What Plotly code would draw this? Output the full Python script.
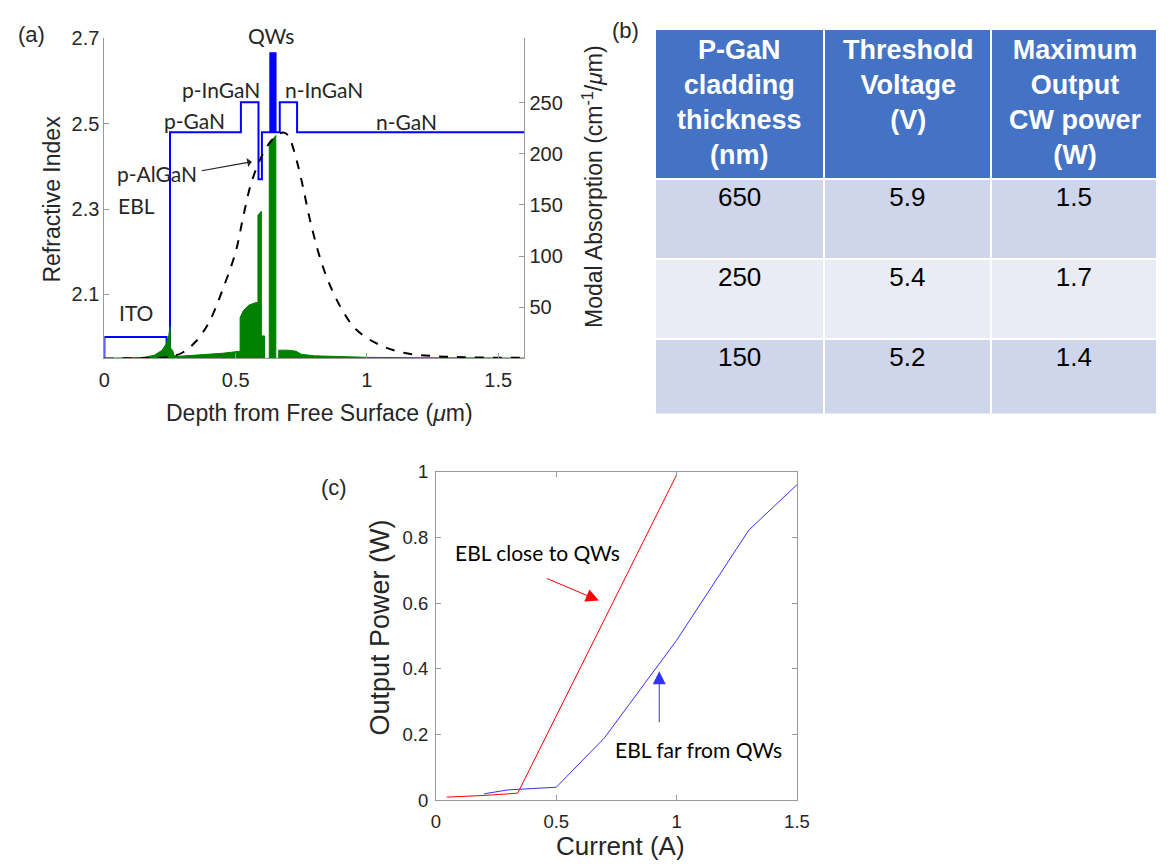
import plotly.graph_objects as go

W, H = 1171, 867

# ---------------- Panel (a) data ----------------
# refractive index profile (left axis)
idx_x = [0, 0, 0.237, 0.237, 0.25, 0.25, 0.52, 0.52, 0.587, 0.587, 0.60, 0.60,
         0.632, 0.632, 0.636, 0.636, 0.640, 0.640, 0.644, 0.644, 0.648, 0.648, 0.652, 0.652,
         0.668, 0.668, 0.734, 0.734, 1.6]
idx_n = [1.90, 2.00, 2.00, 1.90, 1.90, 2.48, 2.48, 2.55, 2.55, 2.37, 2.37, 2.48,
         2.48, 2.665, 2.665, 2.48, 2.48, 2.665, 2.665, 2.48, 2.48, 2.665, 2.665, 2.48,
         2.48, 2.55, 2.55, 2.48, 2.48]

# modal absorption (right axis, cm^-1/um)
abs_x = [0, 0.10, 0.15, 0.19, 0.22, 0.235, 0.245, 0.25, 0.252, 0.26,
         0.265, 0.28, 0.35, 0.45, 0.517, 0.517, 0.53, 0.55, 0.57, 0.585,
         0.585, 0.598, 0.598, 0.610, 0.610, 0.628, 0.628, 0.653, 0.653, 0.664,
         0.664, 0.70, 0.73, 0.75, 0.80, 0.90, 1.0, 1.2, 1.6]
abs_v = [0, 0.3, 1, 3, 8, 14, 22, 31, 10, 8,
         3, 2, 3, 5, 7, 40, 47, 52, 54, 55,
         140, 144, 22, 22, 0, 0, 210, 218, 0, 0,
         8, 8, 7, 4, 2.5, 1.5, 1, 0.6, 0.3]

# optical mode intensity (dashed, plotted on the absorption scale)
mode_x = [0, 0.15, 0.25, 0.30, 0.35, 0.40, 0.45, 0.50, 0.53, 0.56, 0.60, 0.64,
          0.68, 0.70, 0.72, 0.75, 0.79, 0.84, 0.90, 0.96, 1.05, 1.15, 1.27, 1.40, 1.6]
mode_v = [0, 0.3, 1.5, 6, 17, 36, 67, 104, 140, 172, 198, 214,
          221, 218, 205, 175, 128, 84, 50, 28, 13, 5, 2, 1, 0.5]

# ---------------- Panel (b) data ----------------
tbl_header = [["P-GaN", "cladding", "thickness", "(nm)"],
              ["Threshold", "Voltage", "(V)"],
              ["Maximum", "Output", "CW power", "(W)"]]
tbl_thickness = ["650", "250", "150"]
tbl_voltage = ["5.9", "5.4", "5.2"]
tbl_power = ["1.5", "1.7", "1.4"]

# ---------------- Panel (c) data ----------------
close_I = [0.045, 0.20, 0.34, 1.0]
close_P = [0.010, 0.015, 0.022, 0.99]
far_I = [0.20, 0.30, 0.50, 0.70, 1.00, 1.30, 1.50]
far_P = [0.020, 0.032, 0.040, 0.19, 0.487, 0.822, 0.96]

AX = "#9a9a9a"
TXT = "#262626"
SANS = "Liberation Sans, Arial, sans-serif"
LBL = "Lato, Open Sans, sans-serif"

TBL_LEFT, TBL_TOP, TBL_BOTTOM = 660, 18, 413
COLW = [172, 170, 170]

def pxx(x):
    return x / W

def pxy(y):
    return 1 - y / H

fig = go.Figure()

# Panel (a): index on the main axis, absorption + mode on the overlay (drawn on top)
fig.add_trace(go.Scatter(x=idx_x, y=idx_n, mode="lines",
                         line=dict(color="#0000ff", width=2),
                         xaxis="x", yaxis="y", showlegend=False))
fig.add_trace(go.Scatter(x=abs_x, y=abs_v, mode="lines", fill="tozeroy",
                         line=dict(color="#008000", width=1), fillcolor="#008000",
                         xaxis="x", yaxis="y2", showlegend=False))
fig.add_trace(go.Scatter(x=mode_x, y=mode_v, mode="lines",
                         line=dict(color="black", width=2, dash="dash", shape="spline"),
                         xaxis="x", yaxis="y2", showlegend=False))

# Panel (b): table cells; header captions drawn as centred multi-line text on top
fig.add_trace(go.Table(
    domain=dict(x=[pxx(TBL_LEFT), 1.0], y=[pxy(TBL_BOTTOM), pxy(TBL_TOP)]),
    columnwidth=COLW,
    header=dict(values=["", "", ""],
                fill_color="#4472C4", line=dict(color="white", width=2),
                font=dict(color="white", size=26, family=SANS), align="center", height=150),
    cells=dict(values=[tbl_thickness, tbl_voltage, tbl_power],
               fill_color=[["#CFD5EA", "#E9EBF5", "#CFD5EA"]] * 3,
               line=dict(color="white", width=2),
               font=dict(color="black", size=26, family=SANS), align="center", height=80),
))

# Panel (c)
fig.add_trace(go.Scatter(x=close_I, y=close_P, mode="lines",
                         line=dict(color="#ff0000", width=1),
                         xaxis="x3", yaxis="y3", showlegend=False))
fig.add_trace(go.Scatter(x=far_I, y=far_P, mode="lines",
                         line=dict(color="#3333ff", width=1),
                         xaxis="x3", yaxis="y3", showlegend=False))

tickfont_a = dict(family=SANS, size=20, color=TXT)
tickfont_c = dict(family=SANS, size=18.5, color=TXT)

fig.update_layout(
    width=W, height=H, margin=dict(l=0, r=0, t=0, b=0),
    paper_bgcolor="white", plot_bgcolor="white",
    xaxis=dict(domain=[pxx(100), pxx(527)], range=[0, 1.6], anchor="y",
               tickvals=[0, 0.5, 1, 1.5], ticktext=["0", "0.5", "1", "1.5"],
               ticks="inside", ticklen=5, tickcolor=AX, showline=True, linecolor=AX,
               showgrid=False, zeroline=False, tickfont=tickfont_a, ticklabelstandoff=4),
    yaxis=dict(domain=[pxy(356), pxy(28)], range=[1.95, 2.7], anchor="x", side="left",
               tickvals=[2.1, 2.3, 2.5, 2.7], ticktext=["2.1", "2.3", "2.5", "2.7"],
               ticks="inside", ticklen=5, tickcolor=AX,
               showline=True, linecolor=AX, showgrid=False, zeroline=False, tickfont=tickfont_a),
    yaxis2=dict(range=[0, 313], overlaying="y", side="right", anchor="x",
                tickvals=[50, 100, 150, 200, 250], ticks="inside", ticklen=5, tickcolor=AX,
                showline=True, linecolor=AX, showgrid=False, zeroline=False, tickfont=tickfont_a),
    xaxis3=dict(domain=[pxx(437), pxx(804)], range=[0, 1.5], anchor="y3",
                tickvals=[0, 0.5, 1, 1.5], ticktext=["0", "0.5", "1", "1.5"],
                ticks="inside", ticklen=5, tickcolor=AX, mirror="allticks",
                showline=True, linecolor=AX, showgrid=False, zeroline=False, tickfont=tickfont_c,
                ticklabelstandoff=4),
    yaxis3=dict(domain=[pxy(809), pxy(472)], range=[0, 1], anchor="x3",
                tickvals=[0, 0.2, 0.4, 0.6, 0.8, 1], ticktext=["0", "0.2", "0.4", "0.6", "0.8", "1"],
                ticks="inside", ticklen=5, tickcolor=AX, mirror="allticks",
                showline=True, linecolor=AX, showgrid=False, zeroline=False, tickfont=tickfont_c,
                ticklabelstandoff=3),
)

ann = []

def paper_text(text, x, y, size, family=SANS, xanchor="center", angle=0, color=TXT,
               yanchor="middle", weight="normal"):
    ann.append(dict(text=text, x=pxx(x), y=pxy(y), xref="paper", yref="paper",
                    showarrow=False, xanchor=xanchor, yanchor=yanchor, textangle=angle,
                    align="center",
                    font=dict(family=family, size=size, color=color, weight=weight)))

# table header captions (centred per line)
left = TBL_LEFT
for col, w in zip(tbl_header, COLW):
    paper_text("<br>".join(col), left + w / 2, TBL_TOP + 5, 27, color="white",
               yanchor="top", weight="bold")
    left += w

# panel labels
paper_text("(a)", 26, 24, 22)
paper_text("(b)", 630, 20, 22)
paper_text("(c)", 333, 488, 22)

# panel (a) axis titles
paper_text("Refractive Index", 47, 193, 23, angle=-90)
paper_text("Modal Absorption (cm<sup>-1</sup>/<i>μ</i>m)", 596, 180, 23, angle=-90)
paper_text("Depth from Free Surface (<i>μ</i>m)", 319, 412, 23)

# panel (a) layer labels
paper_text("QWs", 269, 25, 21, family=LBL)
paper_text("p-InGaN", 219, 80, 21, family=LBL)
paper_text("n-InGaN", 323, 80, 21, family=LBL)
paper_text("p-GaN", 192, 112, 21, family=LBL)
paper_text("n-GaN", 407, 113, 21, family=LBL)
paper_text("p-AlGaN", 153, 167, 21, family=LBL)
paper_text("EBL", 112, 199, 21, family=LBL, xanchor="left")
paper_text("ITO", 113, 309, 21, family=LBL, xanchor="left")

# arrow p-AlGaN
ann.append(dict(x=0.562, y=2.411, xref="x", yref="y", ax=0.365, ay=2.389, axref="x", ayref="y",
                showarrow=True, arrowhead=1, arrowsize=1.3, arrowwidth=1.2, arrowcolor="#222222",
                text=""))

# panel (c) axis titles
paper_text("Output Power (W)", 380, 632, 27, angle=-90)
paper_text("Current (A)", 625, 856, 26)

# panel (c) labels and arrows
ann.append(dict(text="EBL close to QWs", x=0.072, y=0.753, xref="x3", yref="y3", showarrow=False,
                xanchor="left", yanchor="middle", font=dict(family=LBL, size=21, color="black")))
ann.append(dict(text="EBL far from QWs", x=0.734, y=0.156, xref="x3", yref="y3", showarrow=False,
                xanchor="left", yanchor="middle", font=dict(family=LBL, size=21, color="black")))
ann.append(dict(x=0.677, y=0.608, xref="x3", yref="y3", ax=0.454, ay=0.677, axref="x3", ayref="y3",
                showarrow=True, arrowhead=2, arrowsize=2.6, arrowwidth=1, arrowcolor="#ff0000", text=""))
ann.append(dict(x=0.928, y=0.393, xref="x3", yref="y3", ax=0.928, ay=0.233, axref="x3", ayref="y3",
                showarrow=True, arrowhead=2, arrowsize=2.6, arrowwidth=1, arrowcolor="#3333ff", text=""))

fig.update_layout(annotations=ann)

fig.write_html("out.html")
